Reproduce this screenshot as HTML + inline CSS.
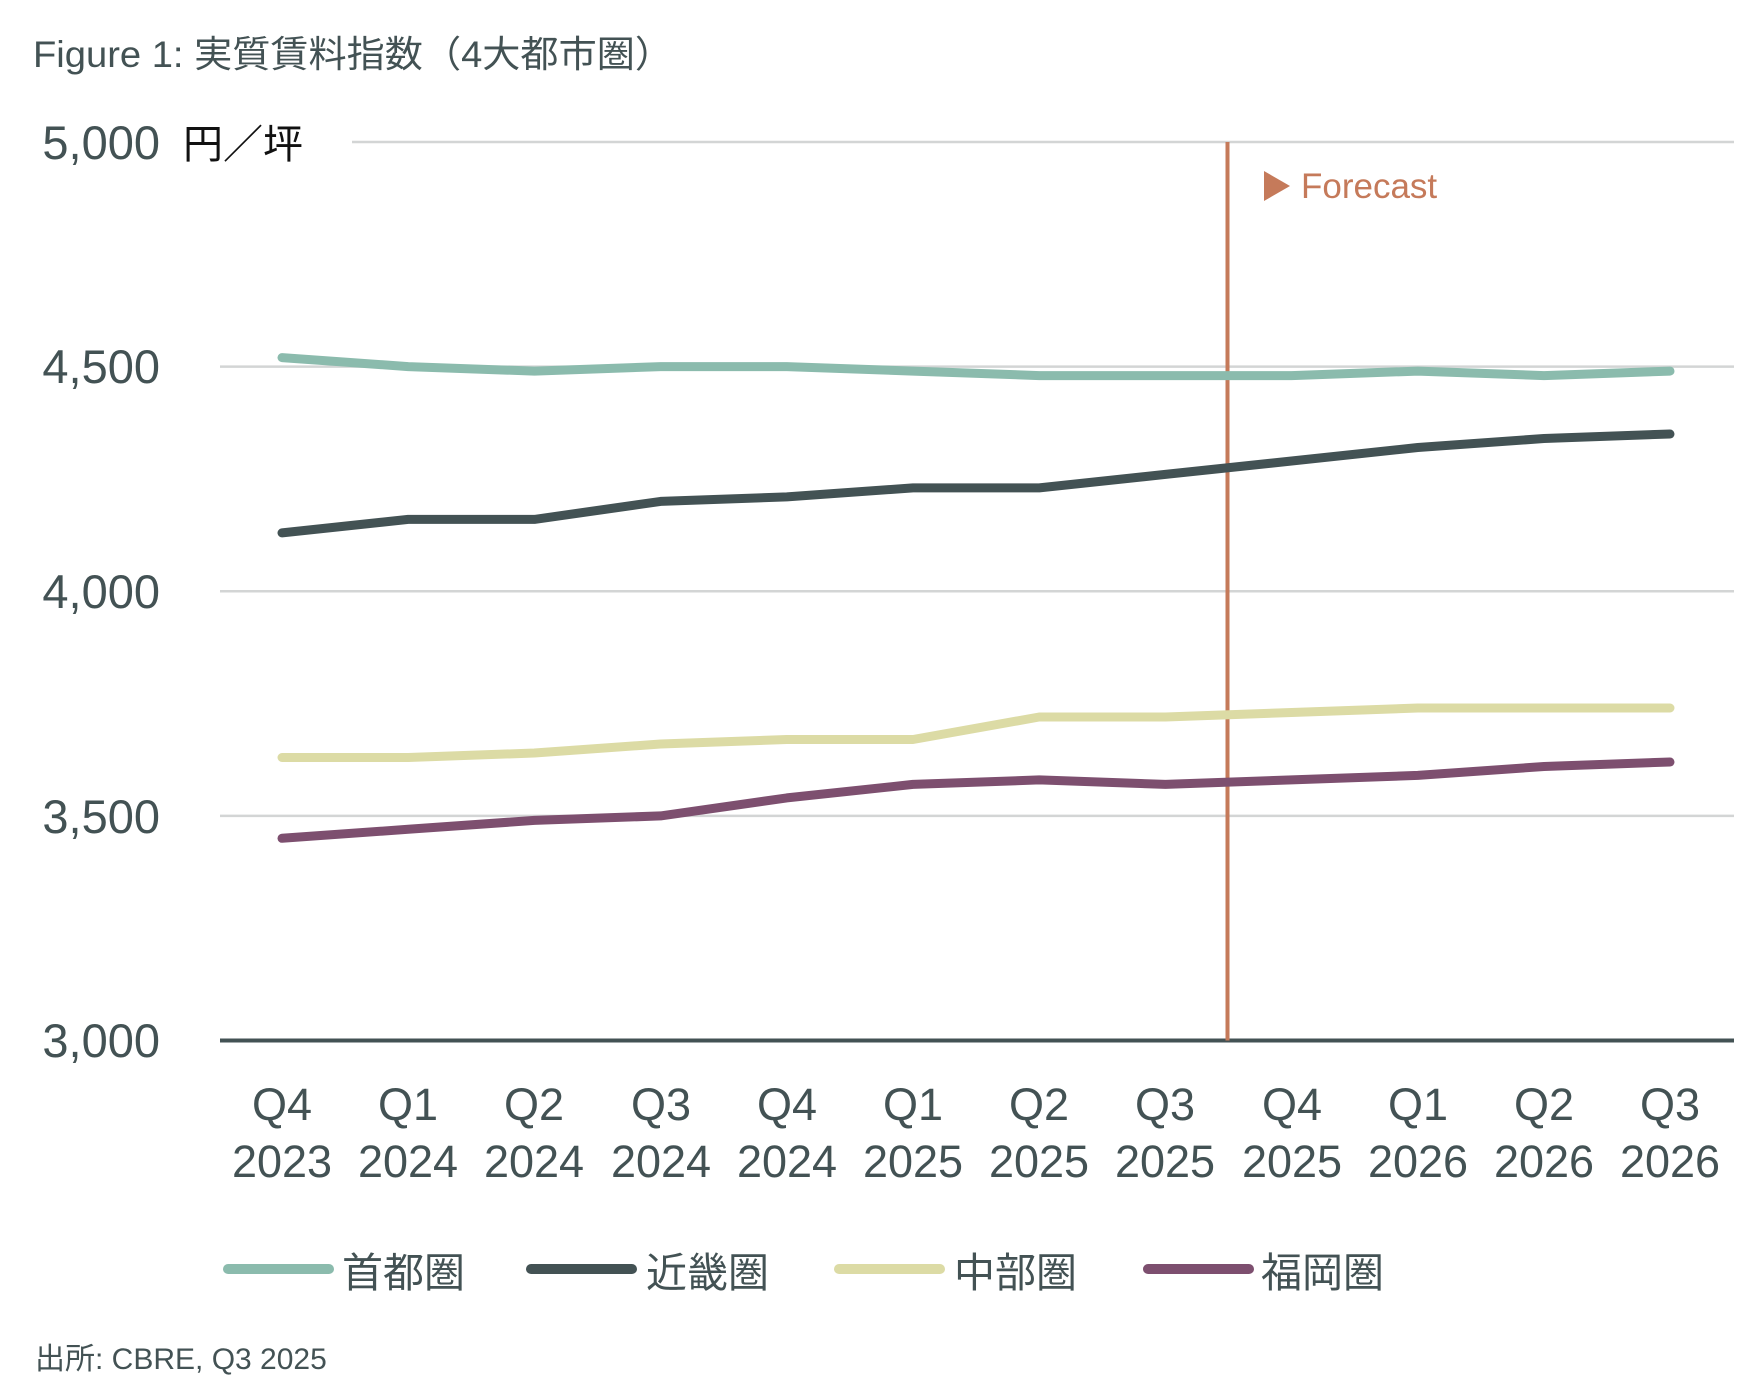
<!DOCTYPE html>
<html><head><meta charset="utf-8"><style>
html,body{margin:0;padding:0;background:#fff;}
svg{display:block;}
text{font-family:"Liberation Sans","Noto Sans CJK JP",sans-serif;fill:#435254;}
</style></head><body>
<svg width="1746" height="1386" viewBox="0 0 1746 1386" xmlns="http://www.w3.org/2000/svg">
<text x="33" y="67" font-size="37" textLength="640" lengthAdjust="spacingAndGlyphs">Figure 1: 実質賃料指数（4大都市圏）</text>
<g stroke="#d3d5d5" stroke-width="2.5">
<line x1="352" y1="142" x2="1734" y2="142"/>
<line x1="220" y1="366.6" x2="1734" y2="366.6"/>
<line x1="220" y1="591.2" x2="1734" y2="591.2"/>
<line x1="220" y1="815.9" x2="1734" y2="815.9"/>
</g>
<line x1="220" y1="1040.5" x2="1734" y2="1040.5" stroke="#435254" stroke-width="4"/>
<g font-size="47" text-anchor="end">
<text x="160" y="159">5,000</text>
<text x="160" y="383">4,500</text>
<text x="160" y="608">4,000</text>
<text x="160" y="833">3,500</text>
<text x="160" y="1057">3,000</text>
</g>
<text x="183" y="158" font-size="40" style="fill:#111">円／坪</text>
<line x1="1227.5" y1="142" x2="1227.5" y2="1040.5" stroke="#c57a5a" stroke-width="4"/>
<polygon points="1264,171 1290,186 1264,201" fill="#c57a5a"/>
<text x="1301" y="198" font-size="35" style="fill:#c57a5a">Forecast</text>
<g fill="none" stroke-width="9" stroke-linecap="round" stroke-linejoin="round">
<polyline stroke="#8bbbad" points="282,357.6 408.2,366.6 534.4,371.1 660.6,366.6 786.8,366.6 913,371.1 1039.2,375.6 1165.4,375.6 1291.6,375.6 1417.8,371.1 1544,375.6 1670,371.1"/>
<polyline stroke="#435254" points="282,532.9 408.2,519.4 534.4,519.4 660.6,501.4 786.8,496.9 913,487.9 1039.2,487.9 1165.4,474.4 1291.6,461 1417.8,447.5 1544,438.5 1670,434"/>
<polyline stroke="#dcdba5" points="282,757.5 408.2,757.5 534.4,753 660.6,744 786.8,739.5 913,739.5 1039.2,717 1165.4,717 1291.6,712.5 1417.8,708 1544,708 1670,708"/>
<polyline stroke="#7d4f6f" points="282,838.3 408.2,829.3 534.4,820.4 660.6,815.9 786.8,797.9 913,784.4 1039.2,779.9 1165.4,784.4 1291.6,779.9 1417.8,775.4 1544,766.5 1670,762"/>
</g>
<g font-size="45" text-anchor="middle">
<text x="282" y="1120">Q4</text><text x="282" y="1177">2023</text>
<text x="408" y="1120">Q1</text><text x="408" y="1177">2024</text>
<text x="534" y="1120">Q2</text><text x="534" y="1177">2024</text>
<text x="661" y="1120">Q3</text><text x="661" y="1177">2024</text>
<text x="787" y="1120">Q4</text><text x="787" y="1177">2024</text>
<text x="913" y="1120">Q1</text><text x="913" y="1177">2025</text>
<text x="1039" y="1120">Q2</text><text x="1039" y="1177">2025</text>
<text x="1165" y="1120">Q3</text><text x="1165" y="1177">2025</text>
<text x="1292" y="1120">Q4</text><text x="1292" y="1177">2025</text>
<text x="1418" y="1120">Q1</text><text x="1418" y="1177">2026</text>
<text x="1544" y="1120">Q2</text><text x="1544" y="1177">2026</text>
<text x="1670" y="1120">Q3</text><text x="1670" y="1177">2026</text>
</g>
<g stroke-width="10" stroke-linecap="round">
<line x1="228" y1="1269" x2="329" y2="1269" stroke="#8bbbad"/>
<line x1="531" y1="1269" x2="632" y2="1269" stroke="#435254"/>
<line x1="839" y1="1269" x2="940" y2="1269" stroke="#dcdba5"/>
<line x1="1148" y1="1269" x2="1249" y2="1269" stroke="#7d4f6f"/>
</g>
<g font-size="41">
<text x="342" y="1287">首都圏</text>
<text x="646" y="1287">近畿圏</text>
<text x="954" y="1287">中部圏</text>
<text x="1261" y="1287">福岡圏</text>
</g>
<text x="35" y="1369" font-size="30">出所: CBRE, Q3 2025</text>
</svg>
</body></html>
